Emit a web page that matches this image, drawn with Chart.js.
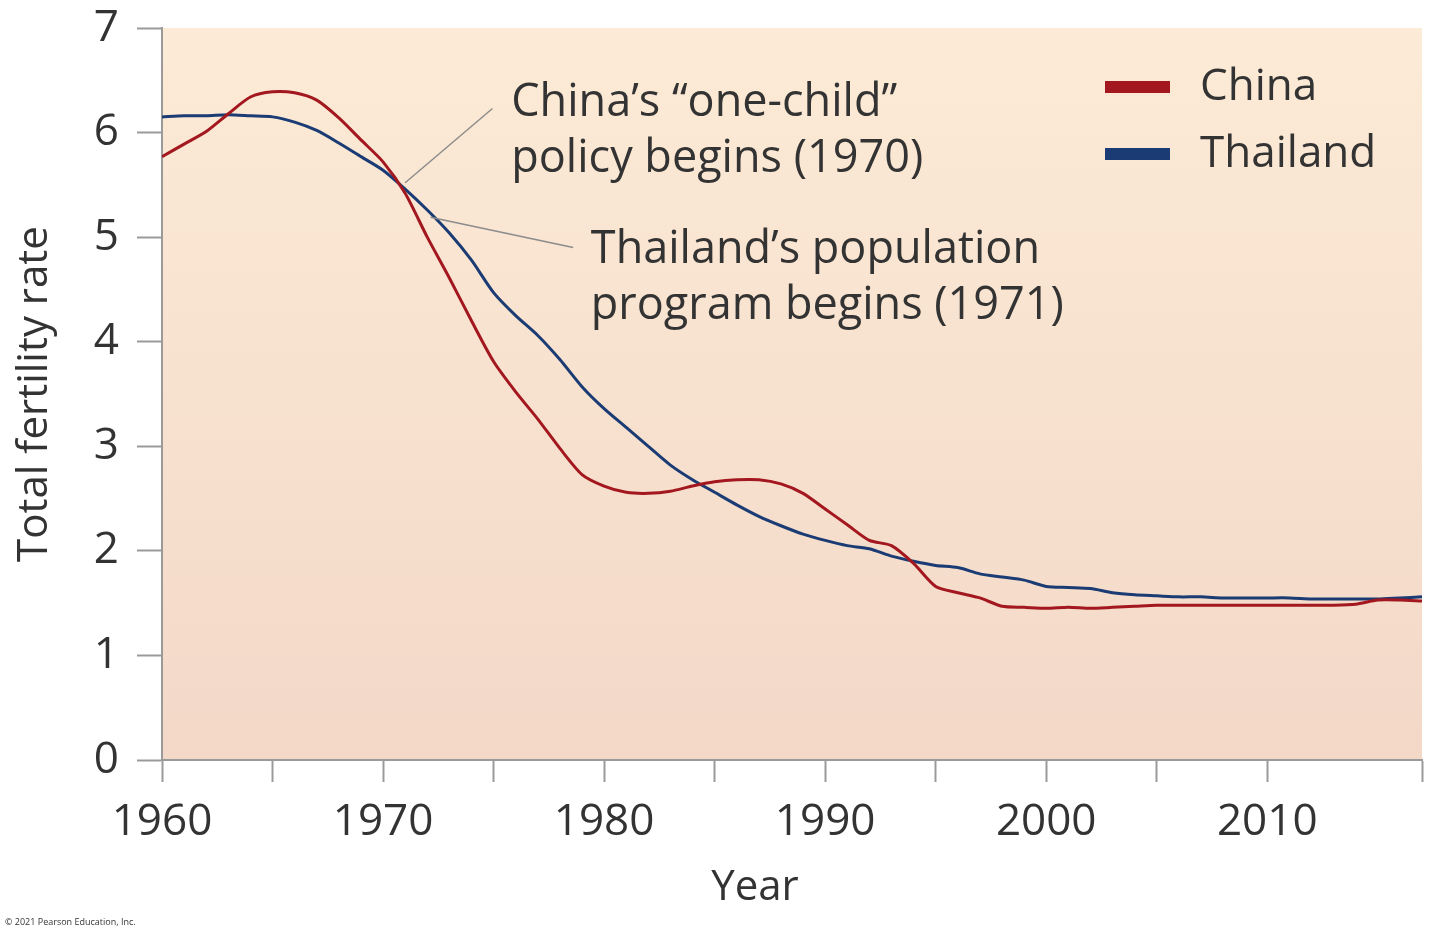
<!DOCTYPE html>
<html>
<head>
<meta charset="utf-8">
<title>Total fertility rate: China and Thailand</title>
<script src="https://cdn.jsdelivr.net/npm/chart.js@4.4.1/dist/chart.umd.min.js"></script>
<style>
    html, body { margin: 0; padding: 0; background: #fff; }
    #wrap { position: relative; width: 1440px; height: 936px; }
</style>
</head>
<body>
<div id="wrap"><canvas id="fertility-chart"></canvas></div>
<script>
// values, one per year
const years = [
    1960, 1961, 1962, 1963, 1964, 1965, 1966, 1967, 1968, 1969,
    1970, 1971, 1972, 1973, 1974, 1975, 1976, 1977, 1978, 1979,
    1980, 1981, 1982, 1983, 1984, 1985, 1986, 1987, 1988, 1989,
    1990, 1991, 1992, 1993, 1994, 1995, 1996, 1997, 1998, 1999,
    2000, 2001, 2002, 2003, 2004, 2005, 2006, 2007, 2008, 2009,
    2010, 2011, 2012, 2013, 2014, 2015, 2016, 2017
];
const chinaTfr = [
    5.77, 5.89, 6.01, 6.18, 6.34, 6.39, 6.38, 6.31, 6.14, 5.93,
    5.72, 5.42, 5.00, 4.61, 4.20, 3.81, 3.52, 3.26, 2.98, 2.73,
    2.62, 2.56, 2.55, 2.57, 2.62, 2.66, 2.68, 2.68, 2.64, 2.55,
    2.40, 2.25, 2.10, 2.05, 1.88, 1.66, 1.60, 1.55, 1.47, 1.46,
    1.45, 1.46, 1.45, 1.46, 1.47, 1.48, 1.48, 1.48, 1.48, 1.48,
    1.48, 1.48, 1.48, 1.48, 1.49, 1.53, 1.53, 1.52
];
const thailandTfr = [
    6.15, 6.16, 6.16, 6.17, 6.16, 6.15, 6.10, 6.02, 5.90, 5.77,
    5.64, 5.46, 5.26, 5.04, 4.78, 4.47, 4.25, 4.06, 3.83, 3.57,
    3.36, 3.18, 3.00, 2.82, 2.68, 2.56, 2.44, 2.33, 2.24, 2.16,
    2.10, 2.05, 2.02, 1.95, 1.90, 1.86, 1.84, 1.78, 1.75, 1.72,
    1.66, 1.65, 1.64, 1.60, 1.58, 1.57, 1.56, 1.56, 1.55, 1.55,
    1.55, 1.55, 1.54, 1.54, 1.54, 1.54, 1.55, 1.56
];
const seriesNames = ['China', 'Thailand'];
const seriesColors = ['#a3171f', '#1a3b73'];
const yTicks = [0, 1, 2, 3, 4, 5, 6, 7];
const xLabelYears = [1960, 1970, 1980, 1990, 2000, 2010];

const callouts = [
    { lines: ['China\u2019s \u201cone-child\u201d', 'policy begins (1970)'], at: [1971.0, 5.52], to: [1974.95, 6.23], text: [1975.8, 6.28] },
    { lines: ['Thailand\u2019s population', 'program begins (1971)'], at: [1972.15, 5.19], to: [1978.6, 4.90], text: [1979.4, 4.88] }
];

const FONT = '"Open Sans", "Noto Sans", sans-serif';
const INK = '#333333';
const AXIS = '#9a9a9a';

const toPoints = vals => years.map((yr, i) => ({ x: yr, y: vals[i] }));

// cream-to-blush fill behind the plot
const plotBackground = {
    id: 'plotBackground',
    beforeDraw(chart) {
        const { ctx, chartArea: a } = chart;
        const g = ctx.createLinearGradient(0, a.top, 0, a.bottom);
        g.addColorStop(0, '#fcebd6');
        g.addColorStop(1, '#f3d8c8');
        ctx.save();
        ctx.fillStyle = g;
        ctx.fillRect(a.left, a.top, a.right - a.left, a.bottom - a.top);
        ctx.restore();
    }
};

// leader lines, notes, legend and the titles
const overlay = {
    id: 'overlay',
    afterDatasetsDraw(chart) {
        const { ctx, scales: { x, y }, chartArea: a } = chart;
        ctx.save();

        callouts.forEach(c => {
            ctx.strokeStyle = '#8c8c8c';
            ctx.lineWidth = 1.5;
            ctx.beginPath();
            ctx.moveTo(x.getPixelForValue(c.at[0]), y.getPixelForValue(c.at[1]));
            ctx.lineTo(x.getPixelForValue(c.to[0]), y.getPixelForValue(c.to[1]));
            ctx.stroke();

            ctx.fillStyle = INK;
            ctx.font = '45px ' + FONT;
            ctx.textAlign = 'left';
            ctx.textBaseline = 'middle';
            const tx = x.getPixelForValue(c.text[0]);
            const ty = y.getPixelForValue(c.text[1]);
            c.lines.forEach((ln, i) => ctx.fillText(ln, tx, ty + i * 56));
        });

        // legend
        seriesNames.forEach((name, i) => {
            const ly = a.top + 59 + i * 67;
            ctx.fillStyle = seriesColors[i];
            ctx.fillRect(a.left + 943, ly - 6, 65, 12);
            ctx.fillStyle = INK;
            ctx.font = '44px ' + FONT;
            ctx.textAlign = 'left';
            ctx.textBaseline = 'middle';
            ctx.fillText(name, a.left + 1038, ly);
        });

        // axis titles
        ctx.fillStyle = INK;
        ctx.font = '42px ' + FONT;
        ctx.textAlign = 'center';
        ctx.textBaseline = 'middle';
        ctx.fillText('Year', a.left + 593, 888);

        ctx.save();
        ctx.translate(35, (a.top + a.bottom) / 2);
        ctx.rotate(-Math.PI / 2);
        ctx.fillText('Total fertility rate', 0, 0);
        ctx.restore();

        ctx.font = '9px ' + FONT;
        ctx.textAlign = 'left';
        ctx.fillText('\u00a9 2021 Pearson Education, Inc.', 5, 922);

        ctx.restore();
    }
};

const ctx = document.getElementById('fertility-chart').getContext('2d');

new Chart(ctx, {
    type: 'line',
    data: {
        datasets: [
            { label: seriesNames[0], data: toPoints(chinaTfr), borderColor: seriesColors[0], borderWidth: 3, pointRadius: 0, tension: 0.25, fill: false },
            { label: seriesNames[1], data: toPoints(thailandTfr), borderColor: seriesColors[1], borderWidth: 3, pointRadius: 0, tension: 0.25, fill: false }
        ]
    },
    options: {
        responsive: true,
        maintainAspectRatio: false,
        animation: false,
        layout: { padding: { top: 28, right: 18, left: 0, bottom: 0 } },
        plugins: {
            legend: { display: false },
            tooltip: { enabled: false }
        },
        scales: {
            x: {
                type: 'linear',
                min: 1960,
                max: 2017,
                afterFit: s => { s.height = 176; s.paddingLeft = 0; s.paddingRight = 0; },
                ticks: {
                    stepSize: 5,
                    autoSkip: false,
                    maxRotation: 0,
                    padding: 14,
                    color: INK,
                    font: { family: FONT, size: 44 },
                    callback: v => xLabelYears.includes(v) ? String(v) : ''
                },
                grid: { drawOnChartArea: false, drawTicks: true, tickLength: 22, tickWidth: 2, tickColor: AXIS },
                border: { display: true, color: AXIS, width: 2 }
            },
            y: {
                min: 0,
                max: 7,
                afterFit: s => { s.width = 162; s.paddingTop = 0; s.paddingBottom = 0; },
                afterBuildTicks: s => { s.ticks = yTicks.map(v => ({ value: v })); },
                ticks: {
                    padding: 18,
                    color: INK,
                    font: { family: FONT, size: 44 }
                },
                grid: { drawOnChartArea: false, drawTicks: true, tickLength: 25, tickWidth: 2, tickColor: AXIS },
                border: { display: true, color: AXIS, width: 2 }
            }
        }
    },
    plugins: [plotBackground, overlay]
});
</script>
</body>
</html>
